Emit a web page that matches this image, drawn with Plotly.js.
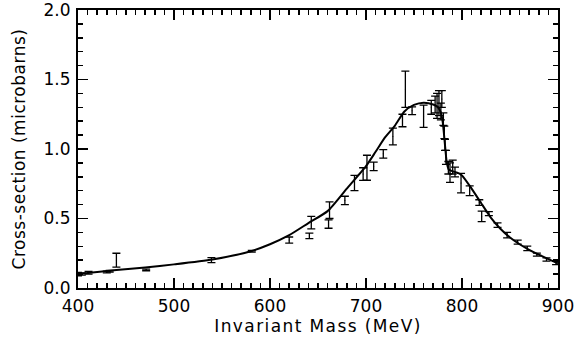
<!DOCTYPE html>
<html>
<head>
<meta charset="utf-8">
<script src="https://cdn.plot.ly/plotly-3.0.1.min.js"></script>
<style>
html,body{margin:0;padding:0;background:#fff;}
#chart{width:575px;height:345px;}
.xtitle{letter-spacing:1.4px;}
.ytitle{letter-spacing:0.5px;}
</style>
</head>
<body>
<div id="chart"></div>
<script>
// Measured data points (MeV, microbarns)
const massData = [400, 404, 411, 430, 433, 440, 471, 539, 581, 620, 641, 643, 661, 662, 678, 688, 697, 701, 708, 718, 728, 738, 741, 748, 760, 768, 772, 774, 776, 778, 779, 780.6, 781.6, 782.3, 783.3, 785.8, 787.5, 790.3, 792.7, 799, 808, 818, 820.5, 828, 837, 847, 858, 868, 878, 888, 898];
const xsecData = [0.1, 0.1, 0.11, 0.115, 0.12, 0.2, 0.13, 0.2, 0.265, 0.345, 0.375, 0.47, 0.46, 0.56, 0.63, 0.755, 0.82, 0.865, 0.875, 0.965, 1.09, 1.205, 1.43, 1.275, 1.235, 1.3, 1.32, 1.31, 1.33, 1.27, 1.36, 1.215, 1.12, 1.03, 0.94, 0.865, 0.83, 0.87, 0.835, 0.755, 0.7, 0.615, 0.515, 0.535, 0.452, 0.38, 0.33, 0.285, 0.24, 0.205, 0.18];
const xsecErr = [0.012, 0.008, 0.01, 0.006, 0.006, 0.05, 0.006, 0.018, 0.006, 0.022, 0.02, 0.045, 0.03, 0.06, 0.03, 0.055, 0.045, 0.09, 0.03, 0.03, 0.06, 0.045, 0.13, 0.028, 0.08, 0.05, 0.06, 0.09, 0.09, 0.06, 0.06, 0.045, 0.045, 0.04, 0.05, 0.045, 0.07, 0.05, 0.035, 0.07, 0.035, 0.02, 0.038, 0.015, 0.016, 0.02, 0.014, 0.016, 0.011, 0.012, 0.012];

// Model curve
const massFit = [400, 420, 440, 470, 500, 540, 580, 600, 620, 640, 660, 680, 700, 710, 720, 730, 740, 750, 760, 770, 775, 778, 780, 782, 784, 786, 790, 795, 800, 810, 820, 830, 840, 850, 860, 870, 880, 890, 900];
const xsecFit = [0.1, 0.115, 0.13, 0.148, 0.17, 0.205, 0.265, 0.315, 0.38, 0.467, 0.553, 0.715, 0.877, 0.98, 1.085, 1.167, 1.27, 1.317, 1.333, 1.32, 1.3, 1.26, 1.19, 1.05, 0.91, 0.854, 0.84, 0.83, 0.81, 0.715, 0.61, 0.507, 0.426, 0.363, 0.315, 0.275, 0.24, 0.208, 0.178];

const xTickVals = [400, 500, 600, 700, 800, 900];
const xTickText = ['400', '500', '600', '700', '800', '900'];
const yTickVals = [0, 0.5, 1.0, 1.5, 2.0];
const yTickText = ['0.0', '0.5', '1.0', '1.5', '2.0'];

const font = {family: 'DejaVu Sans, Verdana, sans-serif', size: 17, color: '#000'};

const traces = [
  {
    x: massData, y: xsecData, type: 'scatter', mode: 'markers',
    marker: {size: 1, color: '#000'},
    error_y: {type: 'data', array: xsecErr, visible: true, color: '#000', thickness: 1.3, width: 4},
    hoverinfo: 'skip', cliponaxis: false
  },
  {
    x: massFit, y: xsecFit, type: 'scatter', mode: 'lines',
    line: {color: '#000', width: 2, shape: 'spline', smoothing: 0.6},
    hoverinfo: 'skip'
  }
];

const axisCommon = {
  showgrid: false, zeroline: false, showline: true, linecolor: '#000', linewidth: 2,
  mirror: 'allticks', ticks: 'inside', tickcolor: '#000', tickwidth: 1.5, ticklen: 10,
  tickfont: font, ticklabeloverflow: 'allow'
};

const layout = {
  width: 575, height: 345,
  margin: {l: 78, r: 17, t: 10, b: 57},
  paper_bgcolor: '#fff', plot_bgcolor: '#fff',
  showlegend: false,
  font: font,
  xaxis: Object.assign({}, axisCommon, {
    range: [400, 900], tickmode: 'array', tickvals: xTickVals, ticktext: xTickText,
    ticklabelstandoff: 2,
    minor: {dtick: 10, tick0: 400, ticks: 'inside', ticklen: 5, tickcolor: '#000', tickwidth: 1.5},
    title: {text: 'Invariant Mass (MeV)', font: font, standoff: 5}
  }),
  yaxis: Object.assign({}, axisCommon, {
    range: [0, 2.0], tickmode: 'array', tickvals: yTickVals, ticktext: yTickText,
    ticklabelstandoff: 2,
    minor: {dtick: 0.1, tick0: 0, ticks: 'inside', ticklen: 5, tickcolor: '#000', tickwidth: 1.5},
    title: {text: 'Cross-section (microbarns)', font: font, standoff: 14}
  })
};

Plotly.newPlot('chart', traces, layout, {staticPlot: true, displayModeBar: false});
</script>
</body>
</html>
